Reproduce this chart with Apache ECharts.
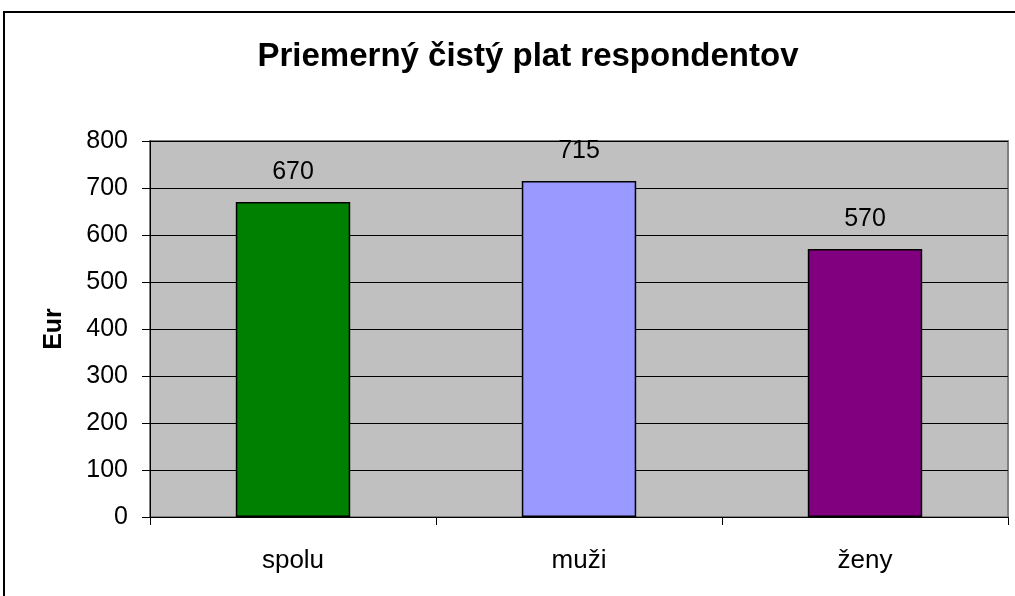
<!DOCTYPE html>
<html>
<head>
<meta charset="utf-8">
<script src="https://cdn.jsdelivr.net/npm/echarts@6/dist/echarts.min.js"></script>
<style>
html,body{margin:0;padding:0;background:#fff;}
#chart{width:1015px;height:596px;}
</style>
</head>
<body>
<div id="chart"></div>
<script>
var categories = ['spolu', 'muži', 'ženy'];
var values = [670, 715, 570];
var barColors = ['#008000', '#9999FF', '#800080'];
var titleText = 'Priemerný čistý plat respondentov';
var yAxisName = 'Eur';

var chart = echarts.init(document.getElementById('chart'), null, {renderer: 'canvas'});
var font = 'Liberation Sans, Arial, sans-serif';
chart.setOption({
  backgroundColor: '#ffffff',
  animation: false,
  title: {
    text: titleText,
    left: 523,
    textAlign: 'center',
    top: 35,
    textStyle: {fontFamily: font, fontSize: 33, fontWeight: 'bold', color: '#000'}
  },
  graphic: [{
    type: 'rect',
    shape: {x: 4, y: 12, width: 1100, height: 700},
    style: {fill: null, stroke: '#000', lineWidth: 2},
    silent: true,
    z: 100
  }],
  grid: {
    left: 150, right: 7, top: 141, bottom: 79,
    show: true, backgroundColor: '#C0C0C0', borderColor: '#808080', borderWidth: 2,
    containLabel: false
  },
  xAxis: {
    type: 'category',
    data: categories,
    axisLine: {show: true, lineStyle: {color: '#000', width: 1}},
    axisTick: {show: true, alignWithLabel: false, length: 8, lineStyle: {color: '#000'}},
    axisLabel: {fontFamily: font, fontSize: 26, color: '#000', margin: 31},
    splitLine: {show: false}
  },
  yAxis: {
    type: 'value',
    min: 0, max: 800, interval: 100,
    name: yAxisName,
    nameLocation: 'middle',
    nameRotate: 90,
    nameGap: 83,
    nameTextStyle: {fontFamily: font, fontSize: 25, fontWeight: 'bold', color: '#000'},
    axisLine: {show: true, lineStyle: {color: '#000', width: 1}},
    axisTick: {show: true, length: 8, lineStyle: {color: '#000'}},
    axisLabel: {fontFamily: font, fontSize: 25, color: '#000', margin: 22},
    splitLine: {show: true, lineStyle: {color: '#000', width: 1}}
  },
  series: [{
    type: 'bar',
    data: values.map(function (v, i) {
      return {value: v, itemStyle: {color: barColors[i]}};
    }),
    barWidth: '40%',
    itemStyle: {borderColor: '#000', borderWidth: 1.5},
    label: {show: true, position: 'top', distance: 17, fontFamily: font, fontSize: 25, color: '#000'}
  }]
});
</script>
</body>
</html>
